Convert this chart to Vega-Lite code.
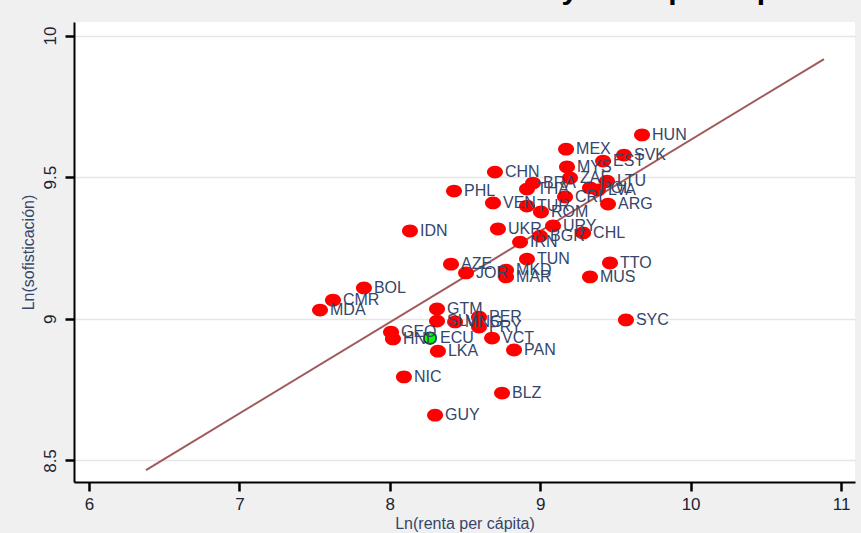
{
  "$schema": "https://vega.github.io/schema/vega-lite/v6.json",
  "width": 781,
  "height": 460,
  "autosize": "none",
  "padding": {"left": 74, "top": 22, "right": 6, "bottom": 51},
  "background": "#f0f0f0",
  "title": {
    "text": "Relación entre sofisticación y renta per cápita",
    "font": "Liberation Sans",
    "fontSize": 30,
    "fontWeight": "bold",
    "color": "#000000",
    "anchor": "end",
    "frame": "group",
    "baseline": "alphabetic",
    "offset": 0,
    "dy": 7,
    "dx": -45
  },
  "config": {
    "view": {"fill": "#ffffff", "stroke": null},
    "axis": {
      "labelFont": "Liberation Sans Narrow, Liberation Sans",
      "titleFont": "Liberation Sans",
      "labelColor": "#1c2435",
      "titleColor": "#34466b",
      "domainColor": "#000000",
      "tickColor": "#000000",
      "domainWidth": 2,
      "tickWidth": 2.5,
      "tickSize": 9
    }
  },
  "datasets": {
    "paises": [
      {"pais": "HUN", "renta": 9.677, "sofis": 9.649, "grupo": "otros"},
      {"pais": "MEX", "renta": 9.172, "sofis": 9.599, "grupo": "otros"},
      {"pais": "SVK", "renta": 9.557, "sofis": 9.578, "grupo": "otros"},
      {"pais": "EST", "renta": 9.418, "sofis": 9.557, "grupo": "otros"},
      {"pais": "MYS", "renta": 9.178, "sofis": 9.536, "grupo": "otros"},
      {"pais": "CHN", "renta": 8.699, "sofis": 9.518, "grupo": "otros"},
      {"pais": "ZAF", "renta": 9.198, "sofis": 9.497, "grupo": "otros"},
      {"pais": "LTU", "renta": 9.444, "sofis": 9.486, "grupo": "otros"},
      {"pais": "BRA", "renta": 8.952, "sofis": 9.479, "grupo": "otros"},
      {"pais": "THA", "renta": 8.912, "sofis": 9.458, "grupo": "otros"},
      {"pais": "POL", "renta": 9.331, "sofis": 9.462, "grupo": "otros"},
      {"pais": "LVA", "renta": 9.384, "sofis": 9.455, "grupo": "otros"},
      {"pais": "CRI", "renta": 9.165, "sofis": 9.43, "grupo": "otros"},
      {"pais": "PHL", "renta": 8.427, "sofis": 9.451, "grupo": "otros"},
      {"pais": "ARG", "renta": 9.451, "sofis": 9.405, "grupo": "otros"},
      {"pais": "VEN", "renta": 8.686, "sofis": 9.409, "grupo": "otros"},
      {"pais": "TUR", "renta": 8.912, "sofis": 9.398, "grupo": "otros"},
      {"pais": "ROM", "renta": 9.005, "sofis": 9.377, "grupo": "otros"},
      {"pais": "IDN", "renta": 8.134, "sofis": 9.31, "grupo": "otros"},
      {"pais": "UKR", "renta": 8.719, "sofis": 9.317, "grupo": "otros"},
      {"pais": "URY", "renta": 9.085, "sofis": 9.328, "grupo": "otros"},
      {"pais": "CHL", "renta": 9.285, "sofis": 9.303, "grupo": "otros"},
      {"pais": "BGR", "renta": 8.999, "sofis": 9.292, "grupo": "otros"},
      {"pais": "IRN", "renta": 8.866, "sofis": 9.271, "grupo": "otros"},
      {"pais": "TUN", "renta": 8.912, "sofis": 9.211, "grupo": "otros"},
      {"pais": "TTO", "renta": 9.464, "sofis": 9.197, "grupo": "otros"},
      {"pais": "MUS", "renta": 9.331, "sofis": 9.148, "grupo": "otros"},
      {"pais": "AZE", "renta": 8.407, "sofis": 9.193, "grupo": "otros"},
      {"pais": "JOR", "renta": 8.507, "sofis": 9.162, "grupo": "otros"},
      {"pais": "MKD", "renta": 8.773, "sofis": 9.172, "grupo": "otros"},
      {"pais": "MAR", "renta": 8.773, "sofis": 9.148, "grupo": "otros"},
      {"pais": "BOL", "renta": 7.828, "sofis": 9.109, "grupo": "otros"},
      {"pais": "CMR", "renta": 7.622, "sofis": 9.066, "grupo": "otros"},
      {"pais": "MDA", "renta": 7.536, "sofis": 9.031, "grupo": "otros"},
      {"pais": "GTM", "renta": 8.314, "sofis": 9.035, "grupo": "otros"},
      {"pais": "SLV", "renta": 8.314, "sofis": 8.992, "grupo": "otros"},
      {"pais": "MNG", "renta": 8.434, "sofis": 8.989, "grupo": "otros"},
      {"pais": "PER", "renta": 8.593, "sofis": 9.006, "grupo": "otros"},
      {"pais": "PRY", "renta": 8.593, "sofis": 8.971, "grupo": "otros"},
      {"pais": "VCT", "renta": 8.68, "sofis": 8.932, "grupo": "otros"},
      {"pais": "GEO", "renta": 8.008, "sofis": 8.953, "grupo": "otros"},
      {"pais": "HND", "renta": 8.021, "sofis": 8.929, "grupo": "otros"},
      {"pais": "LKA", "renta": 8.32, "sofis": 8.886, "grupo": "otros"},
      {"pais": "PAN", "renta": 8.826, "sofis": 8.89, "grupo": "otros"},
      {"pais": "SYC", "renta": 9.57, "sofis": 8.996, "grupo": "otros"},
      {"pais": "NIC", "renta": 8.094, "sofis": 8.795, "grupo": "otros"},
      {"pais": "BLZ", "renta": 8.746, "sofis": 8.738, "grupo": "otros"},
      {"pais": "GUY", "renta": 8.301, "sofis": 8.66, "grupo": "otros"},
      {"pais": "ECU", "renta": 8.267, "sofis": 8.932, "grupo": "ecuador"}
    ],
    "ajuste": [
      {"renta": 6.379, "sofis": 8.466},
      {"renta": 10.887, "sofis": 9.917}
    ]
  },
  "encoding": {
    "x": {
      "field": "renta",
      "type": "quantitative",
      "scale": {"domain": [5.9003, 11.093], "nice": false, "zero": false},
      "axis": {
        "title": "Ln(renta per cápita)",
        "values": [6, 7, 8, 9, 10, 11],
        "grid": false,
        "labelFontSize": 17,
        "labelPadding": 5,
        "titleFontSize": 16,
        "titleFontWeight": "normal",
        "titlePadding": 3
      }
    },
    "y": {
      "field": "sofis",
      "type": "quantitative",
      "scale": {"domain": [8.4241, 10.0477], "nice": false, "zero": false},
      "axis": {
        "title": "Ln(sofisticación)",
        "values": [8.5, 9, 9.5, 10],
        "format": ".1~f",
        "grid": true,
        "gridColor": "#e6e6e6",
        "gridWidth": 1.5,
        "labelAngle": -90,
        "labelAlign": "center",
        "labelBaseline": "bottom",
        "labelFontSize": 17,
        "labelPadding": 6,
        "titleFontSize": 16,
        "titleFontWeight": "normal",
        "titlePadding": 5
      }
    }
  },
  "layer": [
    {
      "data": {"name": "ajuste"},
      "mark": {"type": "line", "color": "#a05a5c", "strokeWidth": 2},
      "encoding": {}
    },
    {
      "data": {"name": "paises"},
      "transform": [{"filter": "datum.grupo === 'otros'"}],
      "mark": {
        "type": "point",
        "shape": "M-1,0 A1,0.8,0,1,1,1,0 A1,0.8,0,1,1,-1,0 Z",
        "filled": true,
        "size": 256,
        "color": "#ff0000",
        "opacity": 1
      },
      "encoding": {}
    },
    {
      "data": {"name": "paises"},
      "transform": [{"filter": "datum.grupo === 'ecuador'"}],
      "mark": {
        "type": "point",
        "shape": "circle",
        "filled": true,
        "size": 150,
        "fill": "#00ff00",
        "stroke": "#000000",
        "strokeWidth": 1.2,
        "opacity": 1
      },
      "encoding": {}
    },
    {
      "data": {"name": "paises"},
      "mark": {
        "type": "text",
        "align": "left",
        "baseline": "middle",
        "dx": 10,
        "font": "Liberation Sans",
        "fontSize": 16,
        "color": "#34466b"
      },
      "encoding": {"text": {"field": "pais"}}
    }
  ]
}
